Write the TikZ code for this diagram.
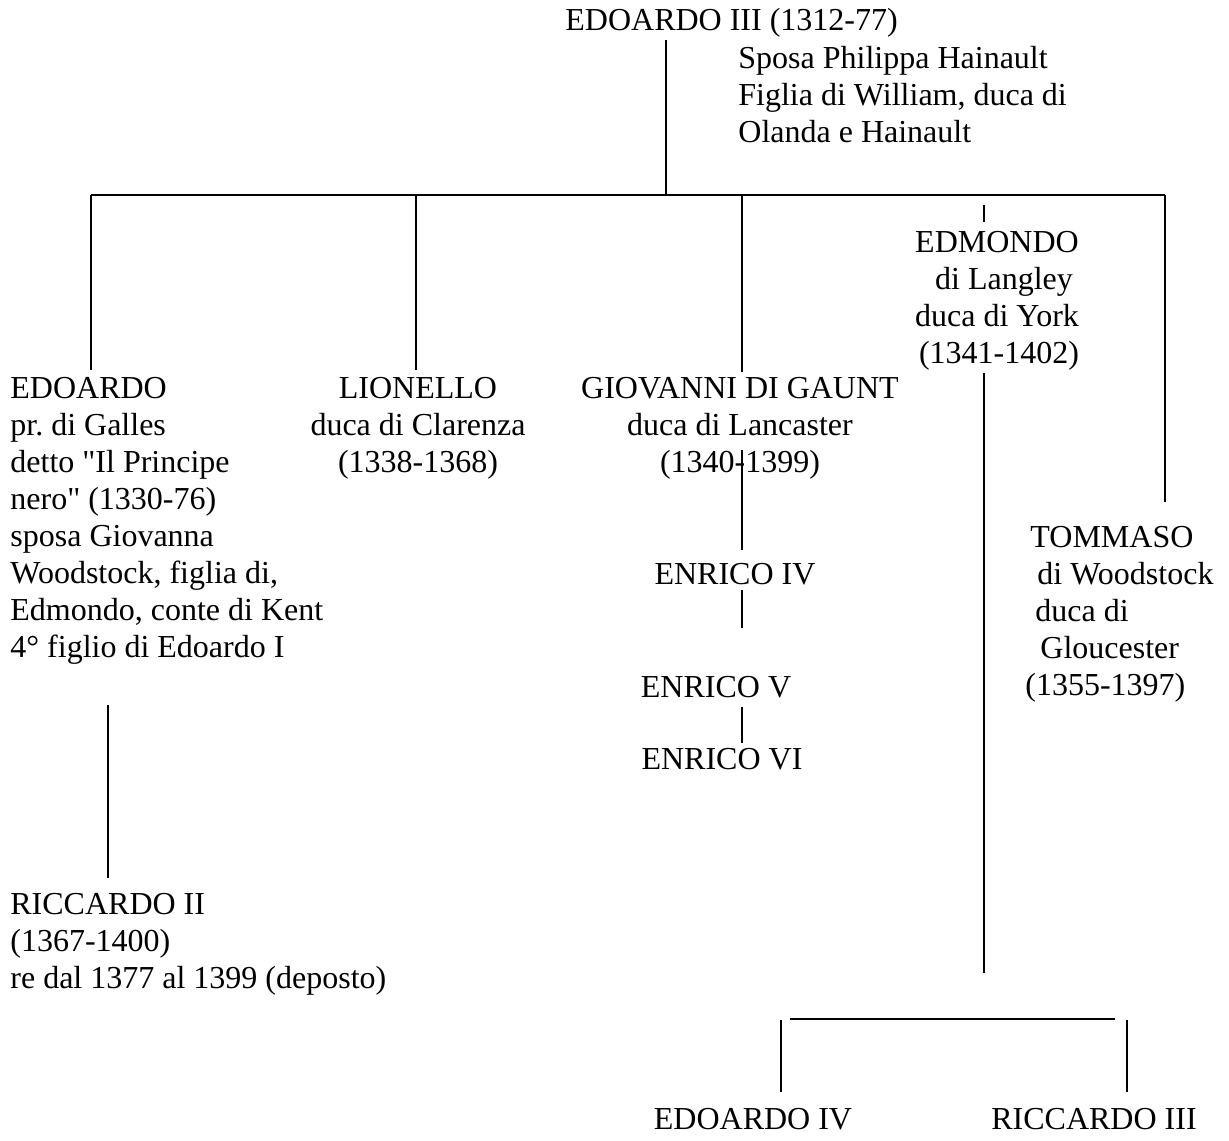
\documentclass[tikz,border=0pt]{standalone}
\usepackage{fontspec}
\setmainfont{Liberation Serif}
\frenchspacing

\begin{document}
\begin{tikzpicture}[x=0.5pt,y=-0.5pt,
   every node/.style={inner sep=0pt,font=\fontsize{16}{18.5}\selectfont},
   person/.style={align=left,anchor=base west},
   cperson/.style={align=center,anchor=base},
   link/.style={line width=0.9pt}]
\useasboundingbox (0,0) rectangle (1229,1140);

\node[person] (edoardoIII) at (565,30) {EDOARDO III (1312-77)};
\node[person] (philippa) at (738,142) {Sposa Philippa Hainault\\Figlia di William, duca di\\Olanda e Hainault};

\node[person] (edoardo) at (10,657) {EDOARDO\\pr. di Galles\\detto \textquotedbl Il Principe\\nero\textquotedbl{} (1330-76)\\sposa Giovanna\\Woodstock, figlia di,\\Edmondo, conte di Kent\\4° figlio di Edoardo I};
\node[cperson] (lionello) at (418,472) {LIONELLO\\duca di Clarenza\\(1338-1368)};
\node[cperson] (giovanni) at (740,472) {GIOVANNI DI GAUNT\\duca di Lancaster\\(1340-1399)};
\node[cperson] (edmondo) at (997,363) {EDMONDO\\\hspace{7pt}di Langley\\duca di York\\\hspace{2pt}(1341-1402)};
\node[person] (tommaso) at (1025,695) {\hspace{2.5pt}TOMMASO\\\hspace{6pt}di Woodstock\\\hspace{5pt}duca di\\\hspace{7.5pt}Gloucester\\(1355-1397)};

\node[cperson] (enricoIV) at (735,584) {ENRICO IV};
\node[cperson] (enricoV) at (716,697) {ENRICO V};
\node[cperson] (enricoVI) at (722,769) {ENRICO VI};

\node[person] (riccardoII) at (10,988) {RICCARDO II\\(1367-1400)\\re dal 1377 al 1399 (deposto)};
\node[cperson] (edoardoIV) at (753,1129) {EDOARDO IV};
\node[cperson] (riccardoIII) at (1094,1129) {RICCARDO III};

\coordinate (bar-l) at (91,195);
\coordinate (bar-r) at (1165,195);
\coordinate (york-bar-l) at (790,1019);
\coordinate (york-bar-r) at (1115,1019);

\draw[link] (666,40) -- (666,195);
\draw[link] (bar-l) -- (bar-r);
\draw[link] (bar-l) -- (91,370);
\draw[link] (416,195) -- (416,370);
\draw[link] (742,195) -- (742,372);
\draw[link] (984,205) -- (984,222);
\draw[link] (bar-r) -- (1165,502);

\draw[link] (742,450) -- (742,550);
\draw[link] (742,590) -- (742,628);
\draw[link] (742,707) -- (742,743);

\draw[link] (108,705) -- (108,878);

\draw[link] (984,373) -- (984,973);
\draw[link] (york-bar-l) -- (york-bar-r);
\draw[link] (781,1020) -- (781,1092);
\draw[link] (1127,1020) -- (1127,1092);
\end{tikzpicture}
\end{document}
